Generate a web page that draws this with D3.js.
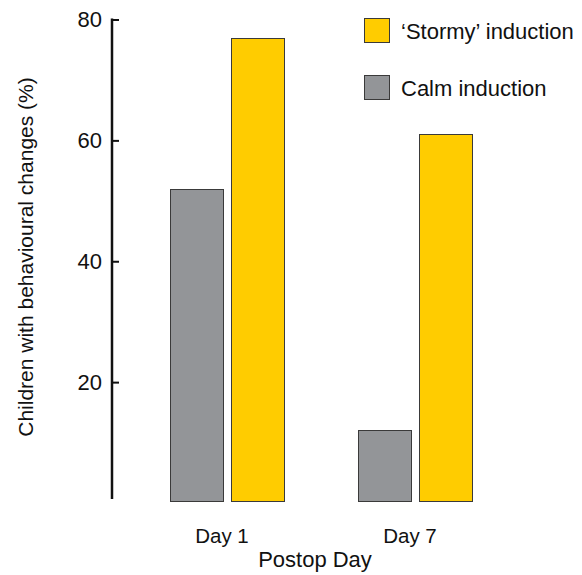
<!DOCTYPE html>
<html><head><meta charset="utf-8">
<script src="https://cdn.jsdelivr.net/npm/d3@7"></script>
<style>body{margin:0;background:#fff}svg{display:block}text{font-family:"Liberation Sans",Arial,sans-serif;fill:#111}</style>
</head><body><svg id="c" width="582" height="575"></svg>
<script>
const days = ["Day 1", "Day 7"];
const seriesNames = ["Calm induction", "'Stormy' induction"];
const calmValues = [52, 12];
const stormyValues = [77, 61];
const yTicks = [20, 40, 60, 80];
const colors = {"Calm induction": "#939598", "'Stormy' induction": "#FFCC00"};

const svg = d3.select("#c");
const y = d3.scaleLinear().domain([0, 80]).range([503, 19.5]);
const x0 = d3.scaleBand().domain(days).range([170, 472]).paddingInner(74 / 188).paddingOuter(0);
const x1 = d3.scaleBand().domain(seriesNames).range([0, x0.bandwidth()]).paddingInner(8 / 61);

// bars
const data = days.map((d, i) => ({day: d, vals: [
  {s: seriesNames[0], v: calmValues[i]}, {s: seriesNames[1], v: stormyValues[i]}]}));
const g = svg.append("g");
g.selectAll("g.grp").data(data).join("g")
  .attr("transform", d => `translate(${x0(d.day)},0)`)
  .selectAll("rect").data(d => d.vals).join("rect")
  .attr("x", d => x1(d.s) + 0.5)
  .attr("y", d => Math.round(y(d.v)) + 0.5)
  .attr("width", x1.bandwidth())
  .attr("height", d => 501.5 - (Math.round(y(d.v)) + 0.5))
  .attr("fill", d => colors[d.s])
  .attr("stroke", "#3a3a3a").attr("stroke-width", 1);

// y axis
const ax = svg.append("g").attr("transform", "translate(112,0)")
  .call(d3.axisRight(y).tickValues(yTicks).tickSize(7).tickFormat(""));
ax.select(".domain").remove();
ax.selectAll(".tick line").attr("stroke", "#111").attr("stroke-width", 2);
svg.append("line").attr("x1", 112).attr("x2", 112).attr("y1", 18.5).attr("y2", 499)
  .attr("stroke", "#111").attr("stroke-width", 2.5);
svg.selectAll("text.ytl").data(yTicks).join("text").attr("class", "ytl")
  .attr("x", 102).attr("y", d => y(d) + 7.5).attr("text-anchor", "end")
  .style("font-size", "22px").text(d => d);

// x labels
svg.selectAll("text.xtl").data(days).join("text").attr("class", "xtl")
  .attr("x", d => x0(d) + x0.bandwidth() / 2 - 5).attr("y", 543)
  .attr("text-anchor", "middle").style("font-size", "20.5px").text(d => d);
svg.append("text").attr("x", 315).attr("y", 567).attr("text-anchor", "middle")
  .style("font-size", "22px").text("Postop Day");
svg.append("text").attr("transform", "translate(33,257) rotate(-90)")
  .attr("text-anchor", "middle").style("font-size", "21px")
  .text("Children with behavioural changes (%)");

// legend
const legendOrder = ["'Stormy' induction", "Calm induction"];
const lg = svg.selectAll("g.lg").data(legendOrder).join("g").attr("class", "lg")
  .attr("transform", (d, i) => `translate(364,${18 + i * 57})`);
lg.append("rect").attr("x", 0.5).attr("y", 0.5).attr("width", 25).attr("height", 24)
  .attr("fill", d => colors[d]).attr("stroke", "#3a3a3a");
lg.append("text").attr("x", 37).attr("y", 20.5).style("font-size", "22px")
  .text(d => d === "'Stormy' induction" ? "\u2018Stormy\u2019 induction" : d);
</script></body></html>
